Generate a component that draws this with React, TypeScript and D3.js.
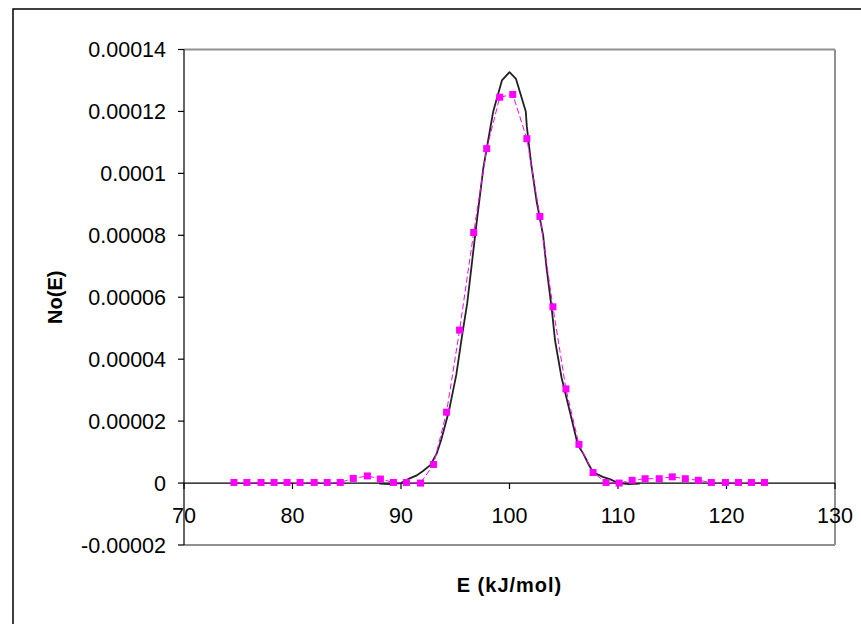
import React from "react";
import * as d3 from "d3";

// Marker series (magenta squares, dashed line)
const markerE = [74.6, 75.8, 77.1, 78.3, 79.5, 80.7, 82.0, 83.2, 84.4, 85.6, 86.9, 88.1, 89.3, 90.5, 91.8, 93.0, 94.2, 95.4, 96.7, 97.9, 99.1, 100.3, 101.6, 102.8, 104.0, 105.2, 106.4, 107.7, 108.9, 110.1, 111.3, 112.5, 113.8, 115.0, 116.2, 117.4, 118.6, 119.9, 121.1, 122.3, 123.5];
const markerN = [0.2e-6, 0.2e-6, 0.2e-6, 0.2e-6, 0.2e-6, 0.2e-6, 0.2e-6, 0.2e-6, 0.2e-6, 1.5e-6, 2.3e-6, 1.3e-6, 0.2e-6, 0.2e-6, 0, 6.0e-6, 22.9e-6, 49.4e-6, 80.9e-6, 108e-6, 124.6e-6, 125.5e-6, 111.2e-6, 86.1e-6, 56.9e-6, 30.4e-6, 12.5e-6, 3.4e-6, 0.2e-6, 0, 0.9e-6, 1.4e-6, 1.4e-6, 2.0e-6, 1.4e-6, 0.9e-6, 0.2e-6, 0.2e-6, 0.2e-6, 0.2e-6, 0.2e-6];

// Solid black curve
const curveE = [88.0, 89.0, 90.0, 90.8, 91.4, 92.0, 92.7, 93.3, 93.7, 94.4, 95.1, 95.6, 96.1, 96.5, 97.0, 97.6, 98.2, 98.5, 99.3, 100.0, 100.6, 101.5, 101.6, 102.0, 102.5, 103.1, 103.4, 103.9, 104.2, 104.8, 105.6, 106.3, 106.8, 107.3, 107.7, 108.6, 109.3, 110.0, 111.0, 112.0];
const curveN = [-0.2e-6, -0.3e-6, 0, 1.5e-6, 2.4e-6, 3.8e-6, 5.8e-6, 9.6e-6, 13.9e-6, 23e-6, 35e-6, 47e-6, 58e-6, 70e-6, 85e-6, 102e-6, 114e-6, 120e-6, 130e-6, 132.7e-6, 130.5e-6, 120e-6, 115e-6, 103e-6, 91e-6, 80e-6, 70e-6, 56e-6, 46e-6, 34e-6, 22.5e-6, 12.3e-6, 9.5e-6, 6.0e-6, 3.5e-6, 2.0e-6, 1.2e-6, 0, -0.3e-6, -0.2e-6];

const xTicks = [70, 80, 90, 100, 110, 120, 130];
const yTicks = [-0.00002, 0, 0.00002, 0.00004, 0.00006, 0.00008, 0.0001, 0.00012, 0.00014];
const yTickLabels = ["-0.00002", "0", "0.00002", "0.00004", "0.00006", "0.00008", "0.0001", "0.00012", "0.00014"];
const xTitle = "E (kJ/mol)";
const yTitle = "No(E)";

const W = 861;
const H = 624;
const L = 184, R = 835, T = 49.5, B = 545;
const FONT = "'Liberation Sans', Arial, sans-serif";

export default function App() {
  const x = d3.scaleLinear().domain([70, 130]).range([L, R]);
  const y = d3.scaleLinear().domain([-0.00002, 0.00014]).range([B, T]);
  const y0 = y(0);

  const curvePts = curveE.map((e, i) => [e, curveN[i]] as [number, number]);
  const markPts = markerE.map((e, i) => [e, markerN[i]] as [number, number]);
  const line = d3.line<[number, number]>().x((d) => x(d[0])).y((d) => y(d[1]));

  const ms = 7;

  return (
    <svg width={W} height={H} style={{ position: "absolute", left: 0, top: 0, background: "#fff" }}>
      {/* outer frame */}
      <rect x={13} y={9} width={W + 20} height={H + 20} fill="#fff" stroke="#000" strokeWidth={1.5} />
      {/* plot area border (gray) */}
      <line x1={L} x2={R} y1={T} y2={T} stroke="#909090" strokeWidth={2} />
      <line x1={R} x2={R} y1={T} y2={B} stroke="#909090" strokeWidth={2} />
      <line x1={L} x2={R} y1={B} y2={B} stroke="#909090" strokeWidth={2} />

      {/* y axis */}
      <line x1={L} x2={L} y1={T} y2={B} stroke="#000" strokeWidth={1.2} />
      {yTicks.map((t, i) => (
        <g key={"yt" + i}>
          <line x1={L - 6} x2={L} y1={y(t)} y2={y(t)} stroke="#000" strokeWidth={1.2} />
          <text x={L - 18} y={y(t)} dy="0.36em" textAnchor="end" fontFamily={FONT} fontSize={21.5} fill="#000">
            {yTickLabels[i]}
          </text>
        </g>
      ))}

      {/* x axis at y=0 */}
      <line x1={L} x2={R} y1={y0} y2={y0} stroke="#000" strokeWidth={1.2} />
      {xTicks.map((t) => (
        <g key={"xt" + t}>
          <line x1={x(t)} x2={x(t)} y1={y0} y2={y0 + 6} stroke="#000" strokeWidth={1.2} />
          <text x={x(t)} y={522.5} textAnchor="middle" fontFamily={FONT} fontSize={21.5} fill="#000">
            {t}
          </text>
        </g>
      ))}

      {/* black curve */}
      <path d={line(curvePts) || ""} fill="none" stroke="#222" strokeWidth={1.8} strokeLinejoin="round" />

      {/* magenta dashed line + markers */}
      <path d={line(markPts) || ""} fill="none" stroke="#ff00ff" strokeWidth={1} strokeDasharray="6,3" />
      {markPts.map((d, i) => (
        <rect key={"m" + i} x={x(d[0]) - ms / 2} y={y(d[1]) - ms / 2} width={ms} height={ms} fill="#ff00ff" />
      ))}

      {/* titles */}
      <text x={(L + R) / 2} y={592} textAnchor="middle" fontFamily={FONT} fontSize={20} fontWeight="bold" letterSpacing={1} fill="#000">
        {xTitle}
      </text>
      <text transform={`translate(62, ${(T + B) / 2}) rotate(-90)`} textAnchor="middle" fontFamily={FONT} fontSize={20} fontWeight="bold" fill="#000">
        {yTitle}
      </text>
    </svg>
  );
}
